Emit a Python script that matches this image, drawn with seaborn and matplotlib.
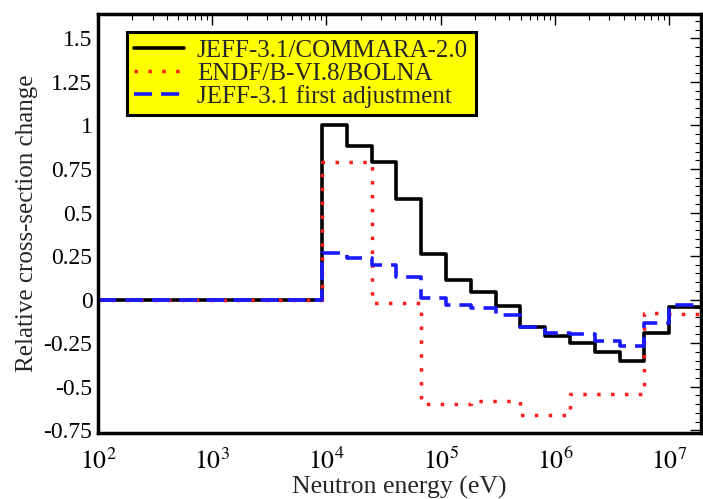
import numpy as np
import pandas as pd
import matplotlib
matplotlib.use("Agg")
import matplotlib.pyplot as plt
from matplotlib.ticker import AutoMinorLocator, FixedLocator, LogLocator, NullFormatter
import seaborn as sns

# Energy group boundaries (eV)
edges = [1e2, 9.119e3, 1.503e4, 2.479e4, 4.087e4, 6.738e4, 1.111e5, 1.832e5,
         3.020e5, 4.979e5, 8.209e5, 1.353e6, 2.231e6, 3.679e6, 6.065e6, 1.0e7, 1.964e7]

jeff_commara = [0, 1.0, 0.88, 0.79, 0.575, 0.26, 0.11, 0.046, -0.035, -0.16,
                -0.21, -0.25, -0.30, -0.35, -0.19, -0.04]
endf_bolna = [0, 0.79, 0.79, -0.02, -0.02, -0.60, -0.60, -0.585, -0.585, -0.665,
              -0.665, -0.54, -0.54, -0.54, -0.075, -0.085]
jeff_adjust = [0, 0.27, 0.24, 0.20, 0.13, 0.01, -0.03, -0.05, -0.09, -0.155,
               -0.19, -0.20, -0.235, -0.265, -0.135, -0.03]

labels = ["JEFF-3.1/COMMARA-2.0", "ENDF/B-VI.8/BOLNA", "JEFF-3.1 first adjustment"]
yticks = [-0.75, -0.5, -0.25, 0, 0.25, 0.5, 0.75, 1, 1.25, 1.5]
ytick_labels = ["-0.75", "-0.5", "-0.25", "0", "0.25", "0.5", "0.75", "1", "1.25", "1.5"]
xticks = [1e2, 1e3, 1e4, 1e5, 1e6, 1e7]
xtick_labels = [r"$10^{2}$", r"$10^{3}$", r"$10^{4}$", r"$10^{5}$", r"$10^{6}$", r"$10^{7}$"]

sns.set_style("white")
plt.rcParams["font.family"] = ["Liberation Serif", "DejaVu Serif"]
plt.rcParams["mathtext.fontset"] = "stix"

fig = plt.figure(figsize=(7.03, 4.99), dpi=100)
W, H = 703, 499
ax = fig.add_axes([98 / W, 1 - 433 / H, (701 - 98) / W, (433 - 14) / H])

def frame(vals, name):
    return pd.DataFrame({"E": edges, "v": list(vals) + [vals[-1]], "s": name})

styles = [
    (jeff_commara, labels[0], dict(color="black", lw=2.6, ls="-")),
    (endf_bolna, labels[1], dict(color="#ff1a1a", lw=2.5, ls=(0, (1, 3)))),
    (jeff_adjust, labels[2], dict(color="#1a1aff", lw=2.6, ls=(0, (5, 2.5)))),
]
for vals, name, kw in styles:
    sns.lineplot(data=frame(vals, name), x="E", y="v", ax=ax, drawstyle="steps-post",
                 estimator=None, sort=False, label=name, **kw)

ax.set_xscale("log")
ax.set_xlim(1e2, 1.9e7)
ax.set_ylim(-0.766, 1.64)
ax.xaxis.set_major_locator(FixedLocator(xticks))
ax.set_xticklabels(xtick_labels)
ax.xaxis.set_minor_locator(LogLocator(base=10, subs=np.arange(2, 10)))
ax.xaxis.set_minor_formatter(NullFormatter())
ax.set_yticks(yticks)
ax.set_yticklabels(ytick_labels)
ax.yaxis.set_minor_locator(AutoMinorLocator(5))

ax.tick_params(which="both", direction="in", top=True, right=True, colors="black")
ax.tick_params(axis="y", labelsize=17, pad=4)
ax.tick_params(axis="x", labelsize=18.5, pad=11)
ax.tick_params(which="major", length=8, width=1.0)
ax.tick_params(which="minor", length=4, width=0.8)
for sp in ax.spines.values():
    sp.set_linewidth(2.5)
    sp.set_color("black")

ax.set_xlabel("Neutron energy (eV)", fontsize=18.5, labelpad=1)
ax.set_ylabel("Relative cross-section change", fontsize=18, labelpad=4)

leg = ax.legend(loc="upper left", bbox_to_anchor=(0.048, 0.957), borderaxespad=0,
                fontsize=18, frameon=True, fancybox=False, framealpha=1,
                facecolor="#ffff00", edgecolor="black", handlelength=2.0,
                handletextpad=0.5, labelspacing=0.0, borderpad=0.3)
leg.get_frame().set_linewidth(2.2)

fig.savefig("out.png", dpi=100)
